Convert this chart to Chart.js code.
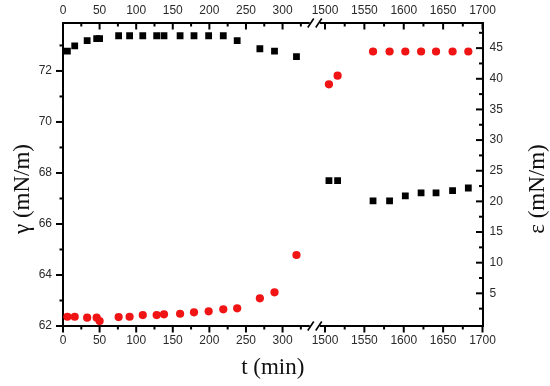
<!DOCTYPE html>
<html>
<head>
<meta charset="utf-8">
<script src="https://cdn.jsdelivr.net/npm/chart.js@4.4.0/dist/chart.umd.min.js"></script>
<style>
  body { margin: 0; background: #fff; }
</style>
</head>
<body>
<canvas id="myChart" width="550" height="386"></canvas>
<script>
// time (min) shared by both series
const times = [6, 16, 33, 46, 50, 76, 91, 109, 128, 138, 160, 179, 199, 219, 238, 269, 289, 319,
  1505, 1516, 1561, 1582, 1602, 1622, 1641, 1662, 1682];
// surface tension, left axis (black squares)
const gamma = [72.78, 72.98, 73.19, 73.27, 73.27, 73.38, 73.38, 73.38, 73.38, 73.38, 73.38, 73.38, 73.38, 73.38,
  73.19, 72.87, 72.78, 72.56,
  67.70, 67.70, 66.91, 66.91, 67.10, 67.22, 67.22, 67.31, 67.41];
// dilational modulus, right axis (red circles)
const epsilon = [1.18, 1.18, 1.02, 1.02, 0.48, 1.13, 1.18, 1.46, 1.46, 1.57, 1.67, 1.90, 2.06, 2.39,
  2.55, 4.18, 5.16, 11.25,
  39.1, 40.5, 44.45, 44.45, 44.45, 44.45, 44.45, 44.45, 44.45];

const xTicksLeft = [0, 50, 100, 150, 200, 250, 300];
const xTicksRight = [1500, 1550, 1600, 1650, 1700];
const gammaTicks = [62, 64, 66, 68, 70, 72];
const epsilonTicks = [5, 10, 15, 20, 25, 30, 35, 40, 45];

// broken x axis: 0..~340 then 1500..1700
const BREAK_U = 344;
const RIGHT_U0 = 358;
const RIGHT_K = 1.076;
const toAxis = t => t < 1000 ? t : RIGHT_U0 + (t - 1500) * RIGHT_K;
const fromAxis = u => u < BREAK_U ? u : 1500 + (u - RIGHT_U0) / RIGHT_K;

const mkTicks = (major, minor) =>
  major.map(v => ({ value: v, minor: false })).concat(minor.map(v => ({ value: v, minor: true })))
    .sort((a, b) => a.value - b.value);

const xTickList = mkTicks(
  xTicksLeft.map(toAxis).concat(xTicksRight.map(toAxis)),
  xTicksLeft.map(v => v + 25).concat(xTicksRight.slice(0, -1).map(v => v + 25)).map(toAxis)
);
const gammaTickList = mkTicks(gammaTicks, gammaTicks.map(v => v + 1));
const epsilonTickList = mkTicks(epsilonTicks, [2.5].concat(epsilonTicks.map(v => v + 2.5)));

const tickFont = { family: 'Liberation Sans', size: 12 };
const tickColor = '#2a2a2a';

const isMinor = (list, v) => list.some(t => t.minor && Math.abs(t.value - v) < 1e-6);
const xLabel = value => isMinor(xTickList, value) ? '' : String(Math.round(fromAxis(value)));

const xScale = (pos, size, pad) => ({
  type: 'linear',
  position: pos,
  min: 0,
  max: toAxis(1700),
  grid: { display: false, drawTicks: false },
  border: { display: true, color: '#000', width: 2 },
  ticks: { autoSkip: false, maxRotation: 0, padding: pad, font: tickFont, color: tickColor, callback: xLabel },
  afterBuildTicks: scale => { scale.ticks = xTickList.map(t => ({ value: t.value })); },
  afterFit: scale => { scale.height = size; }
});

const yScale = (pos, min, max, list, size, pad) => ({
  type: 'linear',
  position: pos,
  min: min,
  max: max,
  grid: { display: false, drawTicks: false },
  border: { display: true, color: '#000', width: 2 },
  ticks: {
    autoSkip: false, padding: pad, font: tickFont, color: tickColor,
    callback: value => isMinor(list, value) ? '' : String(value)
  },
  afterBuildTicks: scale => { scale.ticks = list.map(t => ({ value: t.value })); },
  afterFit: scale => { scale.width = size; }
});

const tickMarks = {
  id: 'tickMarks',
  afterDraw(chart) {
    const ctx = chart.ctx;
    const a = chart.chartArea;
    const s = chart.scales;
    ctx.save();
    ctx.strokeStyle = '#000';
    ctx.lineWidth = 2;
    const mark = (x1, y1, x2, y2) => { ctx.beginPath(); ctx.moveTo(x1, y1); ctx.lineTo(x2, y2); ctx.stroke(); };
    xTickList.forEach(t => {
      const len = t.minor ? 3.5 : 6.5;
      const p = s.x.getPixelForValue(t.value);
      mark(p, a.bottom, p, a.bottom + len);
      mark(p, a.top, p, a.top + len);
    });
    gammaTickList.forEach(t => {
      const len = t.minor ? 3.5 : 7;
      const p = s.yL.getPixelForValue(t.value);
      mark(a.left, p, a.left - len, p);
    });
    epsilonTickList.forEach(t => {
      const len = t.minor ? 3.5 : 6.5;
      const p = s.yR.getPixelForValue(t.value);
      mark(a.right, p, a.right - len, p);
    });
    // axis break marks
    const bx = s.x.getPixelForValue(BREAK_U);
    [a.top, a.bottom].forEach(y => {
      ctx.fillStyle = '#fff';
      ctx.fillRect(bx - 5, y - 2, 10, 4);
      ctx.lineWidth = 1.6;
      mark(bx - 7, y + 4.5, bx - 1, y - 4.5);
      mark(bx + 1, y + 4.5, bx + 7, y - 4.5);
    });
    // axis titles
    ctx.fillStyle = '#111';
    ctx.font = '23px "Liberation Serif"';
    ctx.textAlign = 'center';
    ctx.textBaseline = 'middle';
    ctx.fillText('t (min)', (a.left + a.right) / 2, 368);
    [[23, 'γ (mN/m)'], [538, 'ε (mN/m)']].forEach(([x, str]) => {
      ctx.save();
      ctx.translate(x, 189);
      ctx.rotate(-Math.PI / 2);
      ctx.fillText(str, 0, 0);
      ctx.restore();
    });
    ctx.restore();
  }
};

const ctx = document.getElementById('myChart').getContext('2d');
const myChart = new Chart(ctx, {
  type: 'scatter',
  data: {
    datasets: [{
      label: 'γ',
      data: times.map((t, i) => ({ x: toAxis(t), y: gamma[i] })),
      yAxisID: 'yL',
      xAxisID: 'x',
      pointStyle: 'rect',
      pointRadius: 4.8,
      borderWidth: 0,
      backgroundColor: '#000',
      borderColor: '#000'
    }, {
      label: 'ε',
      data: times.map((t, i) => ({ x: toAxis(t), y: epsilon[i] })),
      yAxisID: 'yR',
      xAxisID: 'x',
      pointStyle: 'circle',
      pointRadius: 4.1,
      borderWidth: 0,
      backgroundColor: '#f01414',
      borderColor: '#f01414'
    }]
  },
  options: {
    responsive: false,
    devicePixelRatio: 1,
    animation: false,
    layout: { padding: 0 },
    plugins: { legend: { display: false }, tooltip: { enabled: false } },
    scales: {
      x: xScale('bottom', 60, 7),
      xTop: xScale('top', 23, 5),
      yL: yScale('left', 62, 73.88, gammaTickList, 63, 11),
      yR: yScale('right', -0.33, 49.1, epsilonTickList, 67.5, 7)
    }
  },
  plugins: [tickMarks]
});
</script>
</body>
</html>
